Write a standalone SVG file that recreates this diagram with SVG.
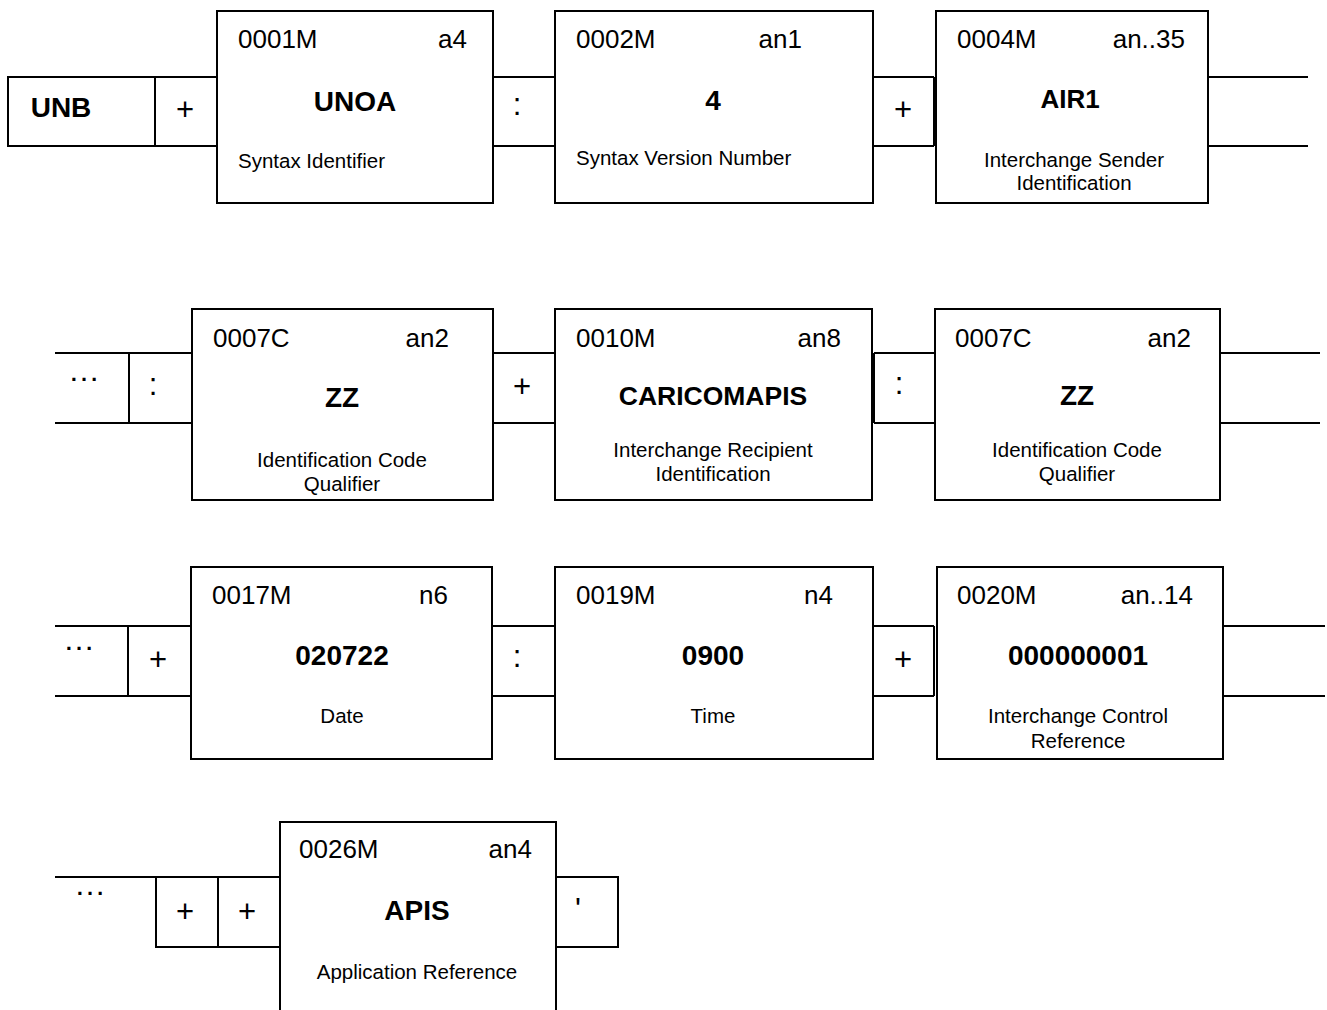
<svg xmlns="http://www.w3.org/2000/svg" width="1327" height="1010" viewBox="0 0 1327 1010">
<style>
  rect, line { fill: none; stroke: #000; stroke-width: 2; }
  rect.box { fill: #fff; }
  rect.bg { fill: #fff; stroke: none; }
  text { font-family: "Liberation Sans", Arial, sans-serif; fill: #000; }
  .hd { font-size: 26px; }
  .hr { font-size: 26px; text-anchor: end; }
  .val { font-size: 28px; font-weight: bold; text-anchor: middle; }
  .ds { font-size: 20.5px; text-anchor: middle; }
  .dl { font-size: 20.5px; }
  .sep { font-size: 31px; text-anchor: middle; }
  .dots { font-size: 32px; text-anchor: middle; }
</style>
<rect class="bg" x="0" y="0" width="1327" height="1010"/>

<g id="connectors">
  <!-- row 1 -->
  <line x1="155" y1="77" x2="217" y2="77"/><line x1="155" y1="146" x2="217" y2="146"/>
  <line x1="493" y1="77" x2="555" y2="77"/><line x1="493" y1="146" x2="555" y2="146"/>
  <line x1="873" y1="77" x2="934" y2="77"/><line x1="873" y1="146" x2="934" y2="146"/>
  <line x1="934" y1="77" x2="934" y2="146"/>
  <line x1="1208" y1="77" x2="1308" y2="77"/><line x1="1208" y1="146" x2="1308" y2="146"/>
  <!-- row 2 -->
  <line x1="55" y1="353" x2="192" y2="353"/><line x1="55" y1="423" x2="192" y2="423"/>
  <line x1="129" y1="353" x2="129" y2="423"/>
  <line x1="493" y1="353" x2="555" y2="353"/><line x1="493" y1="423" x2="555" y2="423"/>
  <line x1="874" y1="353" x2="935" y2="353"/><line x1="874" y1="423" x2="935" y2="423"/>
  <line x1="874" y1="353" x2="874" y2="423"/>
  <line x1="1220" y1="353" x2="1320" y2="353"/><line x1="1220" y1="423" x2="1320" y2="423"/>
  <!-- row 3 -->
  <line x1="55" y1="626" x2="191" y2="626"/><line x1="55" y1="696" x2="191" y2="696"/>
  <line x1="128" y1="626" x2="128" y2="696"/>
  <line x1="492" y1="626" x2="555" y2="626"/><line x1="492" y1="696" x2="555" y2="696"/>
  <line x1="873" y1="626" x2="934" y2="626"/><line x1="873" y1="696" x2="934" y2="696"/>
  <line x1="934" y1="626" x2="934" y2="696"/>
  <line x1="1223" y1="626" x2="1325" y2="626"/><line x1="1223" y1="696" x2="1325" y2="696"/>
  <!-- row 4 -->
  <line x1="55" y1="877" x2="156" y2="877"/>
</g>

<g id="separators">
  <text class="sep" x="185" y="120">+</text>
  <text class="sep" x="517" y="115">:</text>
  <text class="sep" x="903" y="120">+</text>
  <text class="dots" x="84" y="381">…</text>
  <text class="sep" x="153" y="395">:</text>
  <text class="sep" x="522" y="397">+</text>
  <text class="sep" x="899" y="394">:</text>
  <text class="dots" x="79" y="650">…</text>
  <text class="sep" x="158" y="670">+</text>
  <text class="sep" x="517" y="667">:</text>
  <text class="sep" x="903" y="670">+</text>
  <text class="dots" x="90" y="895">…</text>
</g>

<g id="unb">
  <rect x="8" y="77" width="147" height="69"/>
  <text class="val" x="61" y="117">UNB</text>
</g>

<g id="e0001">
  <rect class="box" x="217" y="11" width="276" height="192"/>
  <text class="hd" x="238" y="48">0001M</text>
  <text class="hr" x="467" y="48">a4</text>
  <text class="val" x="355" y="111">UNOA</text>
  <text class="dl" x="238" y="168">Syntax Identifier</text>
</g>

<g id="e0002">
  <rect class="box" x="555" y="11" width="318" height="192"/>
  <text class="hd" x="576" y="48">0002M</text>
  <text class="hr" x="802" y="48">an1</text>
  <text class="val" x="713" y="110">4</text>
  <text class="dl" x="576" y="165">Syntax Version Number</text>
</g>

<g id="e0004">
  <rect class="box" x="936" y="11" width="272" height="192"/>
  <text class="hd" x="957" y="48">0004M</text>
  <text class="hr" x="1185" y="48">an..35</text>
  <text class="val" x="1070" y="108" style="font-size:26px">AIR1</text>
  <text class="ds" x="1074" y="167">Interchange Sender</text>
  <text class="ds" x="1074" y="190">Identification</text>
</g>

<g id="e0007a">
  <rect class="box" x="192" y="309" width="301" height="191"/>
  <text class="hd" x="213" y="347">0007C</text>
  <text class="hr" x="449" y="347">an2</text>
  <text class="val" x="342" y="407">ZZ</text>
  <text class="ds" x="342" y="467">Identification Code</text>
  <text class="ds" x="342" y="491">Qualifier</text>
</g>

<g id="e0010">
  <rect class="box" x="555" y="309" width="317" height="191"/>
  <text class="hd" x="576" y="347">0010M</text>
  <text class="hr" x="841" y="347">an8</text>
  <text class="val" x="713" y="405" style="font-size:26.5px">CARICOMAPIS</text>
  <text class="ds" x="713" y="457">Interchange Recipient</text>
  <text class="ds" x="713" y="481">Identification</text>
</g>

<g id="e0007b">
  <rect class="box" x="935" y="309" width="285" height="191"/>
  <text class="hd" x="955" y="347">0007C</text>
  <text class="hr" x="1191" y="347">an2</text>
  <text class="val" x="1077" y="405">ZZ</text>
  <text class="ds" x="1077" y="457">Identification Code</text>
  <text class="ds" x="1077" y="481">Qualifier</text>
</g>

<g id="e0017">
  <rect class="box" x="191" y="567" width="301" height="192"/>
  <text class="hd" x="212" y="604">0017M</text>
  <text class="hr" x="448" y="604">n6</text>
  <text class="val" x="342" y="665">020722</text>
  <text class="ds" x="342" y="723">Date</text>
</g>

<g id="e0019">
  <rect class="box" x="555" y="567" width="318" height="192"/>
  <text class="hd" x="576" y="604">0019M</text>
  <text class="hr" x="833" y="604">n4</text>
  <text class="val" x="713" y="665">0900</text>
  <text class="ds" x="713" y="723">Time</text>
</g>

<g id="e0020">
  <rect class="box" x="937" y="567" width="286" height="192"/>
  <text class="hd" x="957" y="604">0020M</text>
  <text class="hr" x="1193" y="604">an..14</text>
  <text class="val" x="1078" y="665">000000001</text>
  <text class="ds" x="1078" y="723">Interchange Control</text>
  <text class="ds" x="1078" y="748">Reference</text>
</g>

<g id="plus1">
  <rect x="156" y="877" width="62" height="70"/>
  <text class="sep" x="185" y="922">+</text>
</g>
<g id="plus2">
  <rect x="218" y="877" width="62" height="70"/>
  <text class="sep" x="247" y="922">+</text>
</g>

<g id="e0026">
  <rect class="box" x="280" y="822" width="276" height="192"/>
  <text class="hd" x="299" y="858">0026M</text>
  <text class="hr" x="532" y="858">an4</text>
  <text class="val" x="417" y="920">APIS</text>
  <text class="ds" x="417" y="979">Application Reference</text>
</g>

<g id="terminator">
  <rect x="556" y="877" width="62" height="70"/>
  <text class="sep" x="578" y="920">'</text>
</g>
</svg>
